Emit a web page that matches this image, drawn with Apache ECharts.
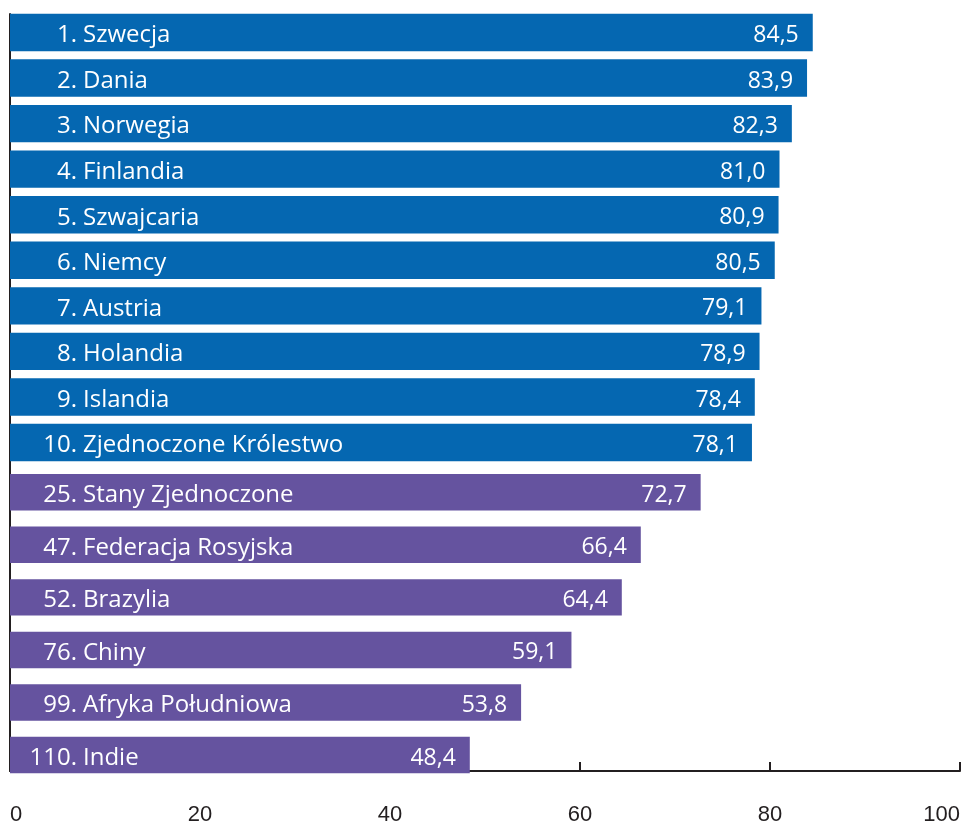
<!DOCTYPE html>
<html>
<head>
<meta charset="utf-8">
<script src="https://cdn.jsdelivr.net/npm/echarts@6/dist/echarts.min.js"></script>
<style>html,body{margin:0;padding:0;background:#fff}#c{width:964px;height:826px}</style>
</head>
<body>
<div id="c"></div>
<script>
const ranks = [1, 2, 3, 4, 5, 6, 7, 8, 9, 10, 25, 47, 52, 76, 99, 110];
const names = ['Szwecja', 'Dania', 'Norwegia', 'Finlandia', 'Szwajcaria', 'Niemcy', 'Austria', 'Holandia', 'Islandia', 'Zjednoczone Królestwo', 'Stany Zjednoczone', 'Federacja Rosyjska', 'Brazylia', 'Chiny', 'Afryka Południowa', 'Indie'];
const values = [84.5, 83.9, 82.3, 81.0, 80.9, 80.5, 79.1, 78.9, 78.4, 78.1, 72.7, 66.4, 64.4, 59.1, 53.8, 48.4];
const topCount = 10;

const FONT = '"Open Sans", sans-serif';
const fmt = v => v.toFixed(1).replace('.', ',');

function catAxis(gi, data) {
  return {
    type: 'category', gridIndex: gi, data: data, inverse: true,
    axisLine: {show: false}, axisTick: {show: false}, axisLabel: {show: false}
  };
}
function hiddenX(gi) {
  return {type: 'value', gridIndex: gi, min: 0, max: 100, show: false};
}
function barSeries(gi, idx, color, gap) {
  const data = values.slice(idx[0], idx[1]);
  const nm = names.slice(idx[0], idx[1]);
  const rk = ranks.slice(idx[0], idx[1]);
  const overlay = (label) => ({
    type: 'bar', xAxisIndex: gi, yAxisIndex: gi, data: data,
    barCategoryGap: gap, barGap: '-100%', silent: true,
    itemStyle: {color: 'rgba(0,0,0,0)'}, label: label
  });
  return [{
    type: 'bar', xAxisIndex: gi, yAxisIndex: gi, data: data,
    barCategoryGap: gap,
    itemStyle: {color: color},
    label: {show: true, position: 'insideRight', distance: 14, offset: [0, 3], color: '#fff',
      fontSize: 23, fontFamily: FONT, formatter: p => fmt(p.value)}
  }, overlay({show: true, position: 'insideLeft', distance: 73, offset: [0, 3], color: '#fff',
      fontSize: 24, fontFamily: FONT, formatter: p => nm[p.dataIndex]}),
  overlay({show: true, position: 'insideLeft', distance: 67, align: 'right', offset: [0, 3], color: '#fff',
      fontSize: 24, fontFamily: FONT, formatter: p => rk[p.dataIndex] + '.'})
  ];
}

const chart = echarts.init(document.getElementById('c'));
chart.setOption({
  animation: false,
  grid: [
    {left: 10, right: 4, top: 9.7, bottom: 360.7},
    {left: 10, right: 4, top: 466, bottom: 44.7},
    {left: 10, right: 4, top: 14, bottom: 52}
  ],
  xAxis: [
    hiddenX(0), hiddenX(1),
    {type: 'value', gridIndex: 2, min: 0, max: 100, interval: 20,
      axisLine: {show: true, lineStyle: {color: '#231f20', width: 2}},
      axisTick: {show: true, inside: true, length: 9, lineStyle: {color: '#231f20', width: 2}},
      splitLine: {show: false},
      axisLabel: {margin: 33, fontSize: 22, color: '#231f20', fontFamily: '"Liberation Sans", Arial, sans-serif',
        alignMinLabel: 'left', alignMaxLabel: 'right'}
    }
  ],
  yAxis: [
    catAxis(0, names.slice(0, topCount)), catAxis(1, names.slice(topCount)),
    {type: 'value', gridIndex: 2, min: 0, max: 1,
      axisLine: {show: true, lineStyle: {color: '#231f20', width: 2}},
      axisTick: {show: false}, axisLabel: {show: false}, splitLine: {show: false}}
  ],
  series: [
    ...barSeries(0, [0, topCount], '#0567b1', '18%'),
    ...barSeries(1, [topCount, values.length], '#65539f', '30.6%')
  ]
});
</script>
</body>
</html>
